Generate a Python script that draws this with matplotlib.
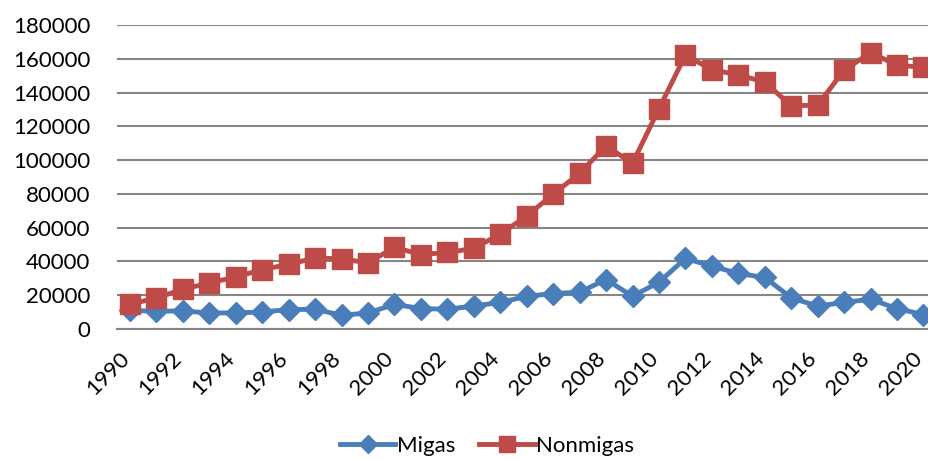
import matplotlib
matplotlib.use("Agg")
import matplotlib.pyplot as plt
from matplotlib.transforms import ScaledTranslation
import numpy as np

years = [str(y) for y in range(1990, 2021)]
migas = [11000, 10500, 10700, 9500, 9500, 10100, 11500, 11700, 8100, 9500,
         14600, 12100, 11700, 13600, 15700, 19400, 21000, 21800, 29300, 19400,
         27700, 41800, 37200, 32900, 30500, 18500, 13500, 15800, 17600, 12100, 8500]
nonmigas = [14600, 18400, 23500, 27300, 30800, 35200, 38200, 42100, 41500, 39200,
            48300, 44100, 45300, 47700, 56200, 66900, 79800, 92200, 108400, 98100,
            130400, 162200, 153500, 150500, 146200, 132200, 132500, 153300, 163600, 156300, 154900]
yticks = list(range(0, 180001, 20000))

plt.rcParams['font.family'] = ['Lato', 'DejaVu Sans']

fig = plt.figure(figsize=(9.29, 4.59), dpi=100)
ax = fig.add_axes([116.7/929, 130/459, 820/929, 304/459])

x = np.arange(len(years))
blue = '#4A7EBB'
red = '#BE4B48'
ax.plot(x, migas, color=blue, lw=3.5, marker='D', ms=11.5, mec=blue, mfc=blue, label='Migas', zorder=3)
ax.plot(x, nonmigas, color=red, lw=3.5, marker='s', ms=14, mec=red, mfc=red, label='Nonmigas', zorder=4)

ax.set_xlim(-0.5, len(years) - 0.5)
ax.set_ylim(0, 180000)
ax.set_yticks(yticks)
ax.set_yticklabels([str(v) for v in yticks], fontsize=16)
ax.yaxis.grid(True, color='#868686', lw=1.5)
ax.set_axisbelow(True)
for s in ['left', 'right', 'top']:
    ax.spines[s].set_visible(False)
ax.spines['bottom'].set_color('#868686')
ax.spines['bottom'].set_linewidth(1.5)
ax.tick_params(axis='y', length=0, pad=19)
ax.tick_params(axis='x', length=0, pad=14)

ax.set_xticks(x[::2])
ax.set_xticklabels(years[::2], fontsize=16, rotation=45, ha='right', va='top', rotation_mode='anchor')
off = ScaledTranslation(-8/72, 0, fig.dpi_scale_trans)
for lab in ax.get_xticklabels():
    lab.set_transform(lab.get_transform() + off)

leg = fig.legend(loc='center', bbox_to_anchor=(487/929, 1 - 446/459), ncol=2, frameon=False,
                 fontsize=16, handlelength=2.5, handletextpad=0.05, columnspacing=1.1,
                 markerscale=0.8)

fig.savefig('out.png', dpi=100)
